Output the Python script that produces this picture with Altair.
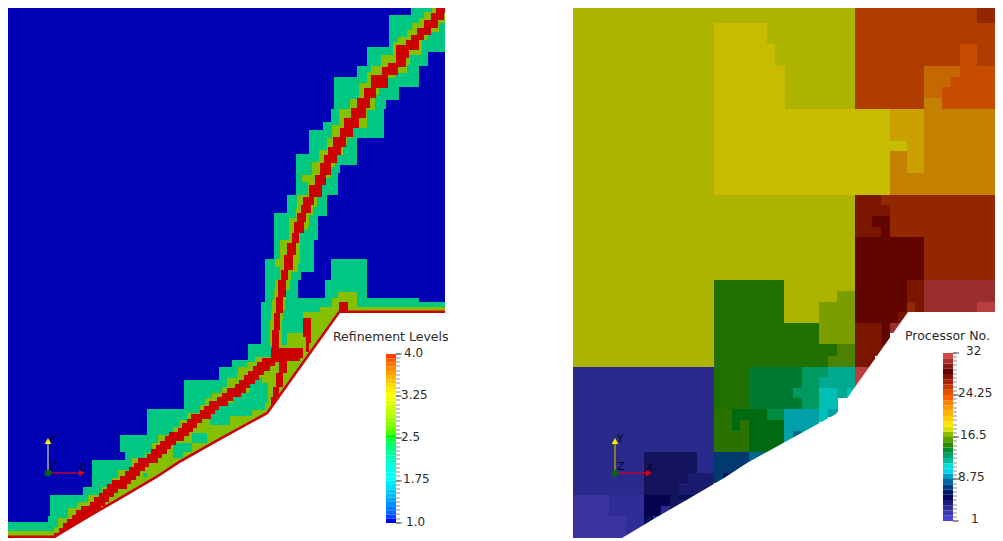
import altair as alt
import pandas as pd

# ---------- left panel: refinement level mesh (reference pixel units) ----------
LEVEL_DOMAIN = [1, 2, 3, 4]
LEVEL_COLORS = ["#0000b4", "#00c782", "#84c000", "#cc0000"]

GREEN_ROWS = [
    (4,15,411,445),(15,47,389,445),(47,52,367,445),(52,66,367,428),(66,77,357,419),
    (77,87,334,419),(87,100,334,399),(100,109,334,386),(109,122,331,384),(122,130,323,384),
    (130,138,309,384),(138,154,309,357),(154,165,296,357),(165,173,296,340),(173,195,296,338),
    (195,213,287,327),(213,216,274,327),(216,240,274,318),(240,259,274,314),(259,272,265,314),
    (259,280,331,367),(272,280,265,301),(280,302,265,298),(280,298,325,367),(298,302,298,419),
    (302,344,261,445),(344,360,248,445),(360,367,232,445),(367,380,219,445),(380,409,184,445),
    (409,435,147,445),(435,452,120,445),(452,460,125,445),(460,487,92,445),(487,495,83,445),
    (495,516,50,445),(516,522,48,445),(522,538,6,445),
]

OLIVE_LEFT_Y = [4,12,18,23,30,37,42,55,66,72,83,99,109,125,138,150,162,175,182,195,208,218,240,259,267,280,290,300,310,320]
OLIVE_LEFT_X = [432,424,419,412,407,398,393,381,371,367,359,350,339,332,327,319,312,302,308,297,296,289,280,275,280,275,274,272,271,270]
OLIVE_RIGHT_Y = [4,23,32,40,55,65,73,78,87,95,110,128,138,145,155,167,178,188,207,215,227,230,263,272,280,290,300,310,320]
OLIVE_RIGHT_X = [445,439,428,422,410,407,395,388,379,375,367,353,347,343,335,331,322,317,313,309,308,300,298,291,290,286,285,283,282]

OLIVE_LOW_Y = [345,357,362,367,373,378,387,393,398,405,413,420,427,435,443,453,458,467,470,478,487,495,502,508,518,527,531]
OLIVE_LOW_X = [272,255,247,238,237,227,222,212,205,200,187,180,173,158,152,145,132,130,118,112,102,88,77,68,58,54,6]

OLIVE_PATCHES = [
    (292,298,338,357),(298,307,332,357),(307,313,320,445),(312,333,303,345),(333,360,287,330),
]

GREEN_PATCHES = [
    (378,383,252,262),(383,393,250,268),(393,403,233,268),(403,410,220,265),(410,416,212,252),
    (416,425,210,230),(433,443,192,207),(443,452,173,192),(452,458,173,183),(473,477,143,147),
]

RED_UP_LEFT_Y = [7,13,20,28,35,40,45,63,67,75,88,98,108,118,128,137,147,155,163,175,185,197,205,213,222,233,243,255,270,280,297,313,330,348]
RED_UP_LEFT_X = [436,431,424,417,411,406,396,388,382,371,364,357,351,344,340,333,328,324,320,315,309,303,301,297,294,292,287,284,281,278,276,274,272,271]
RED_UP_RIGHT_Y = [7,13,20,28,35,40,50,58,67,75,88,98,108,118,128,137,147,155,163,175,185,197,205,213,222,233,243,255,270,280,297,313,330,348]
RED_UP_RIGHT_X = [445,444,438,431,424,419,409,406,398,388,376,370,366,359,353,346,341,337,331,326,322,314,311,306,304,299,296,293,288,286,283,280,279,277]

RED_LOW_Y = [358,362,366,371,375,380,384,388,393,397,401,406,410,414,419,423,428,432,436,441,445,449,454,458,463,467,471,476,480,484,489,493,497,502,506,510,515,519,523,528,533]
RED_LOW_L = [262,257,253,248,244,239,235,227,222,217,209,204,200,191,187,182,178,169,165,160,156,151,147,138,134,129,125,120,112,107,103,99,94,90,81,76,72,67,63,59,54]
RED_LOW_R = [280,275,270,264,259,255,250,246,241,233,228,219,215,211,202,197,193,189,184,176,171,167,162,158,149,145,140,136,131,127,118,114,109,105,101,96,91,86,81,73,61]

RED_PATCHES = [
    (348,358,277,303),(358,361,280,300),(358,373,279,287),(373,387,276,283),(387,397,273,279),
    (397,408,271,276),(408,415,269,273),(318,337,303,311),(337,343,306,311),(343,352,306,309),
    (302,313,339,348),
]

WALL_L_X = [6,55,90,123,157,180,217,268,340,445]
WALL_L_Y = [538,538,517,498,478,463,442,414,313,313]
WALL_R_X = [573,622,657,690,724,747,785,836,908,1003]
WALL_R_Y = [538,538,517,498,478,463,442,414,312,312]


def steps(ys, xs, y):
    val = xs[0]
    for yy, xx in zip(ys, xs):
        if yy <= y:
            val = xx
    return val


def band(level, ly, lx, ry, rx, end):
    cuts = sorted(set(ly) | set(ry) | {end})
    return [
        dict(id=level, y=a, y2=b, x=steps(ly, lx, a), x2=steps(ry, rx, a))
        for a, b in zip(cuts[:-1], cuts[1:])
    ]


def rows(level, items):
    return [dict(id=level, y=a, y2=b, x=c, x2=d) for a, b, c, d in items]


left_cells = (
    rows(1, [(4, 538, 6, 445)])
    + rows(2, GREEN_ROWS)
    + band(3, OLIVE_LEFT_Y, OLIVE_LEFT_X, OLIVE_RIGHT_Y, OLIVE_RIGHT_X, 345)
    + band(3, OLIVE_LOW_Y, OLIVE_LOW_X, [345], [445], 538)
    + rows(3, OLIVE_PATCHES)
    + rows(2, GREEN_PATCHES)
    + band(4, RED_UP_LEFT_Y, RED_UP_LEFT_X, RED_UP_RIGHT_Y, RED_UP_RIGHT_X, 358)
    + band(4, RED_LOW_Y, RED_LOW_L, RED_LOW_Y, RED_LOW_R, 538)
    + rows(4, RED_PATCHES)
)

# ---------- right panel: processor partition ----------
PROC_COLORS = {
    1:"#3a34a0", 2:"#302c96", 3:"#2a2a8c", 4:"#1a1a6e", 5:"#13135e", 6:"#04044e", 7:"#001058",
    8:"#003a6e", 9:"#00688a", 10:"#00a0a8", 11:"#00bfb5", 12:"#00aa90", 13:"#009a60", 14:"#008a40",
    15:"#007a30", 16:"#006a10", 17:"#2a7200", 18:"#207000", 19:"#4b8200", 20:"#7a9e00", 21:"#acb400",
    22:"#c8bc00", 23:"#c8a000", 24:"#c48000", 25:"#c66800", 26:"#c84c00", 27:"#b03c00", 28:"#932800",
    29:"#7a1500", 30:"#600500", 31:"#9a2e2e", 32:"#b84040",
}
PROC_CELLS = [
    (21,573,855,4,367),
    (22,714,767,23,44),(22,714,775,44,66),(22,714,785,66,109),(22,714,890,109,195),(22,890,907,141,151),
    (20,837,855,291,302),(20,819,855,302,344),(19,837,855,344,356),(19,828,855,356,367),
    (18,714,784,280,323),(18,714,819,323,344),(18,714,837,344,356),(18,714,828,356,367),(18,714,749,367,409),
    (17,714,749,409,452),(16,732,767,409,420),(16,732,740,420,431),(16,749,784,420,452),
    (15,749,802,367,409),(14,767,784,409,420),
    (13,802,828,367,377),(13,802,819,377,388),(13,793,819,388,398),(13,802,819,398,409),
    (12,828,855,367,377),(12,819,855,377,388),(11,819,855,388,398),(12,837,847,388,398),
    (11,819,838,398,409),(11,819,828,409,422),(10,828,838,409,417),(10,784,819,409,442),(9,793,802,431,438),
    (8,714,749,452,483),(9,749,770,452,463),(7,723,732,473,480),
    (3,573,714,367,538),(1,573,609,495,538),(1,609,626,516,538),(2,609,644,495,516),(2,626,644,516,538),
    (4,688,714,473,485),(4,679,714,485,495),(4,670,714,495,516),
    (5,644,697,452,473),(5,644,688,473,484),(5,644,679,484,495),(5,670,679,495,516),
    (6,644,670,495,506),(6,644,661,506,516),(7,644,653,516,527),(7,679,697,495,500),
    (27,855,995,4,109),(28,995,1003,4,538),(28,977,1003,4,23),(28,855,1003,195,312),
    (26,960,977,44,66),(26,960,995,66,77),(26,951,995,77,87),(26,942,995,87,109),
    (25,924,960,66,77),(25,924,951,77,87),(25,924,942,87,98),
    (24,924,942,98,109),(24,924,995,109,195),(24,890,924,151,195),
    (23,890,924,109,141),(23,907,924,141,173),
    (29,855,881,195,205),(29,855,890,205,216),(29,855,872,216,227),(29,855,881,227,237),
    (30,872,890,216,227),(30,881,890,227,237),(30,855,924,237,280),
    (30,855,907,280,323),(29,907,915,280,302),(29,915,924,280,312),
    (29,855,882,323,346),(29,855,872,346,356),(29,855,875,356,367),
    (30,882,890,323,345),(31,890,915,323,333),(29,898,915,312,323),(29,872,885,345,356),
    (32,855,875,367,388),
    (31,924,995,280,312),(32,977,995,302,312),
]
right_cells = [dict(id=p, x=a, x2=b, y=c, y2=d) for p, a, b, c, d in PROC_CELLS]

# ---------- colour bars ----------
LEVEL_STOPS = [1, 1.75, 2.5, 3.25, 4]
LEVEL_STOP_COLORS = ["#0000ff", "#00ffff", "#00ff00", "#ffff00", "#ff0000"]
LEVEL_BAR = [1.0,1.075,1.15,1.225,1.3,1.375,1.45,1.525,1.6,1.675,1.75,1.825,1.9,1.975,2.05,2.125,2.2,2.275,2.35,2.425,
             2.5,2.575,2.65,2.725,2.8,2.875,2.95,3.025,3.1,3.175,3.25,3.325,3.4,3.475,3.55,3.625,3.7,3.775,3.85,3.925]
PROC_BAR = list(range(1, 33))
PROC_STOPS = [1, 3, 5.5, 7, 8.5, 10.5, 12.5, 14.5, 16.5, 18.5, 21, 24, 26, 29, 32]
PROC_STOP_COLORS = ["#4646d2","#2d2d96","#00005a","#003c82","#0082b4","#00f0f0","#00aa82","#008200",
                    "#6eaa00","#fff000","#ffb400","#ff6400","#c83c00","#640000","#d24646"]


def bar_cells(values, lo, hi, bottom, top, x0, x1):
    step = (hi - lo) / len(values)
    k = (bottom - top) / (hi - lo)
    return [dict(v=v, x=x0, x2=x1, y=bottom - (v - lo) * k, y2=bottom - (v - lo + step) * k) for v in values]


left_bar = bar_cells(LEVEL_BAR, 1, 4, 523, 354, 386, 396)
right_bar = bar_cells(PROC_BAR, 1, 33, 521, 353, 943, 953)

TICK_Y_L = [354,358,362,366,371,375,379,383,388,392,396,400,405,409,413,417,421,426,430,434,438,443,447,451,455,459,464,468,472,476,481,485,489,493,498,502,506,510,514,519,523]
TICK_Y_R = [353,357,361,365,370,374,378,382,387,391,395,399,403,408,412,416,420,425,429,433,437,441,446,450,454,458,463,467,471,475,479,484,488,492,496,500,505,509,513,517,521]
MAJOR_Y_L = [354,396,438,481,523]
MAJOR_Y_R = [353,395,437,479,521]
ticks = (
    [dict(x=396, x2=400, y=y) for y in TICK_Y_L] + [dict(x=943 + 10, x2=957, y=y) for y in TICK_Y_R]
)
major = [dict(x=396, x2=402, y=y) for y in MAJOR_Y_L] + [dict(x=953, x2=959, y=y) for y in MAJOR_Y_R]

LABELS = [
    ("Refinement Levels", 333, 337), ("Processor No.", 905, 336),
]
label_df = pd.DataFrame(LABELS, columns=["t", "x", "y"])
TICK_LABELS = [
    ("4.0", 404, 353), ("3.25", 401, 395), ("2.5", 401, 437), ("1.75", 403, 479), ("1.0", 406, 522),
    ("32", 966, 351), ("24.25", 958, 393), ("16.5", 960, 435), ("8.75", 958, 477), ("1", 971, 519),
]
tick_label_df = pd.DataFrame(TICK_LABELS, columns=["t", "x", "y"])
AXES_TXT = [("Y", 50, 439), ("Z", 50, 467), ("X", 79, 468), ("Y", 617, 439), ("Z", 617, 467), ("X", 646, 468)]
axes_df = pd.DataFrame(AXES_TXT, columns=["t", "x", "y"])

sx = alt.Scale(domain=[8, 995], range=[0, 987], nice=False, zero=False)
sy = alt.Scale(domain=[8, 538], range=[0, 530], nice=False, zero=False)
X = alt.X("x:Q", scale=sx, axis=None)
Y = alt.Y("y:Q", scale=sy, axis=None)
NOPAD = dict(stroke=None, strokeWidth=0)


def rects(data, color):
    return alt.Chart(pd.DataFrame(data)).mark_rect(**NOPAD).encode(
        x=X, x2="x2:Q", y=Y, y2="y2:Q", color=color
    )


level_rects = rects(
    left_cells,
    alt.Color("id:O", scale=alt.Scale(domain=LEVEL_DOMAIN, range=LEVEL_COLORS), legend=None),
)
proc_rects = rects(
    right_cells,
    alt.Color("id:O", scale=alt.Scale(domain=list(PROC_COLORS), range=list(PROC_COLORS.values())), legend=None),
)

wall_l = pd.DataFrame({"x": WALL_L_X, "y": WALL_L_Y, "b": [538] * len(WALL_L_X)})
wall_r = pd.DataFrame({"x": WALL_R_X, "y": WALL_R_Y, "b": [538] * len(WALL_R_X)})
wall_line = alt.Chart(wall_l).mark_line(color="#cc0000", strokeWidth=5, clip=False).encode(x=X, y=Y)
mask_l = alt.Chart(wall_l).mark_area(color="white", opacity=1).encode(x=X, y=Y, y2="b:Q")
mask_r = alt.Chart(wall_r).mark_area(color="white", opacity=1).encode(x=X, y=Y, y2="b:Q")

bar_l = rects(
    left_bar,
    alt.Color("v:Q", scale=alt.Scale(domain=LEVEL_STOPS, range=LEVEL_STOP_COLORS), legend=None),
)
bar_r = rects(
    right_bar,
    alt.Color("v:Q", scale=alt.Scale(domain=PROC_STOPS, range=PROC_STOP_COLORS), legend=None),
)
tick_marks = alt.Chart(pd.DataFrame(ticks)).mark_rule(color="#909090", strokeWidth=1).encode(x=X, x2="x2:Q", y=Y)
major_marks = alt.Chart(pd.DataFrame(major)).mark_rule(color="#505050", strokeWidth=1).encode(x=X, x2="x2:Q", y=Y)
labels = alt.Chart(label_df).mark_text(
    align="left", baseline="middle", font="DejaVu Sans", fontSize=12.5, color="#2a2a2a"
).encode(x=X, y=Y, text="t:N")
tick_labels = alt.Chart(tick_label_df).mark_text(
    align="left", baseline="middle", font="DejaVu Sans", fontSize=12, color="#2a2a2a"
).encode(x=X, y=Y, text="t:N")

# orientation triads
TRIAD_X = [48, 615]
TRIAD_O_Y = 473
triad_y_lines = pd.DataFrame({"x": TRIAD_X, "y": [TRIAD_O_Y] * 2, "y2": [441, 441], "c": ["#a8a8a8", "#a89c00"]})
triad_x_lines = pd.DataFrame({"x": TRIAD_X, "x2": [82, 649], "y": [TRIAD_O_Y] * 2})
tri_y = pd.DataFrame({"x": TRIAD_X, "y": [441, 441]})
tri_x = pd.DataFrame({"x": [82, 649], "y": [TRIAD_O_Y] * 2})
tri_z = pd.DataFrame({"x": TRIAD_X, "y": [TRIAD_O_Y] * 2})

y_rules = alt.Chart(triad_y_lines).mark_rule(strokeWidth=1.5).encode(
    x=X, y=Y, y2="y2:Q", color=alt.Color("c:N", scale=None)
)
x_rules = alt.Chart(triad_x_lines).mark_rule(color="#c00030", strokeWidth=1.5).encode(x=X, x2="x2:Q", y=Y)
y_heads = alt.Chart(tri_y).mark_point(shape="triangle-up", filled=True, size=45, color="#ffe800", opacity=1).encode(x=X, y=Y)
x_heads = alt.Chart(tri_x).mark_point(shape="triangle-right", filled=True, size=45, color="#e80000", opacity=1).encode(x=X, y=Y)
z_dots = alt.Chart(tri_z).mark_circle(size=45, color="#0a6414", opacity=1).encode(x=X, y=Y)
axes_txt = alt.Chart(axes_df).mark_text(
    align="left", baseline="middle", font="DejaVu Sans", fontSize=11, color="#05052a"
).encode(x=X, y=Y, text="t:N")

chart = alt.layer(
    level_rects, proc_rects, wall_line, mask_l, mask_r, bar_l, bar_r, tick_marks, major_marks,
    labels, tick_labels, y_rules, x_rules, y_heads, x_heads, z_dots, axes_txt,
).resolve_scale(color="independent").properties(
    width=987, height=530, padding=0, autosize=alt.AutoSizeParams(type="none")
).configure_view(stroke=None)

chart.save("out.html", embed_options={"renderer": "svg", "actions": False})
